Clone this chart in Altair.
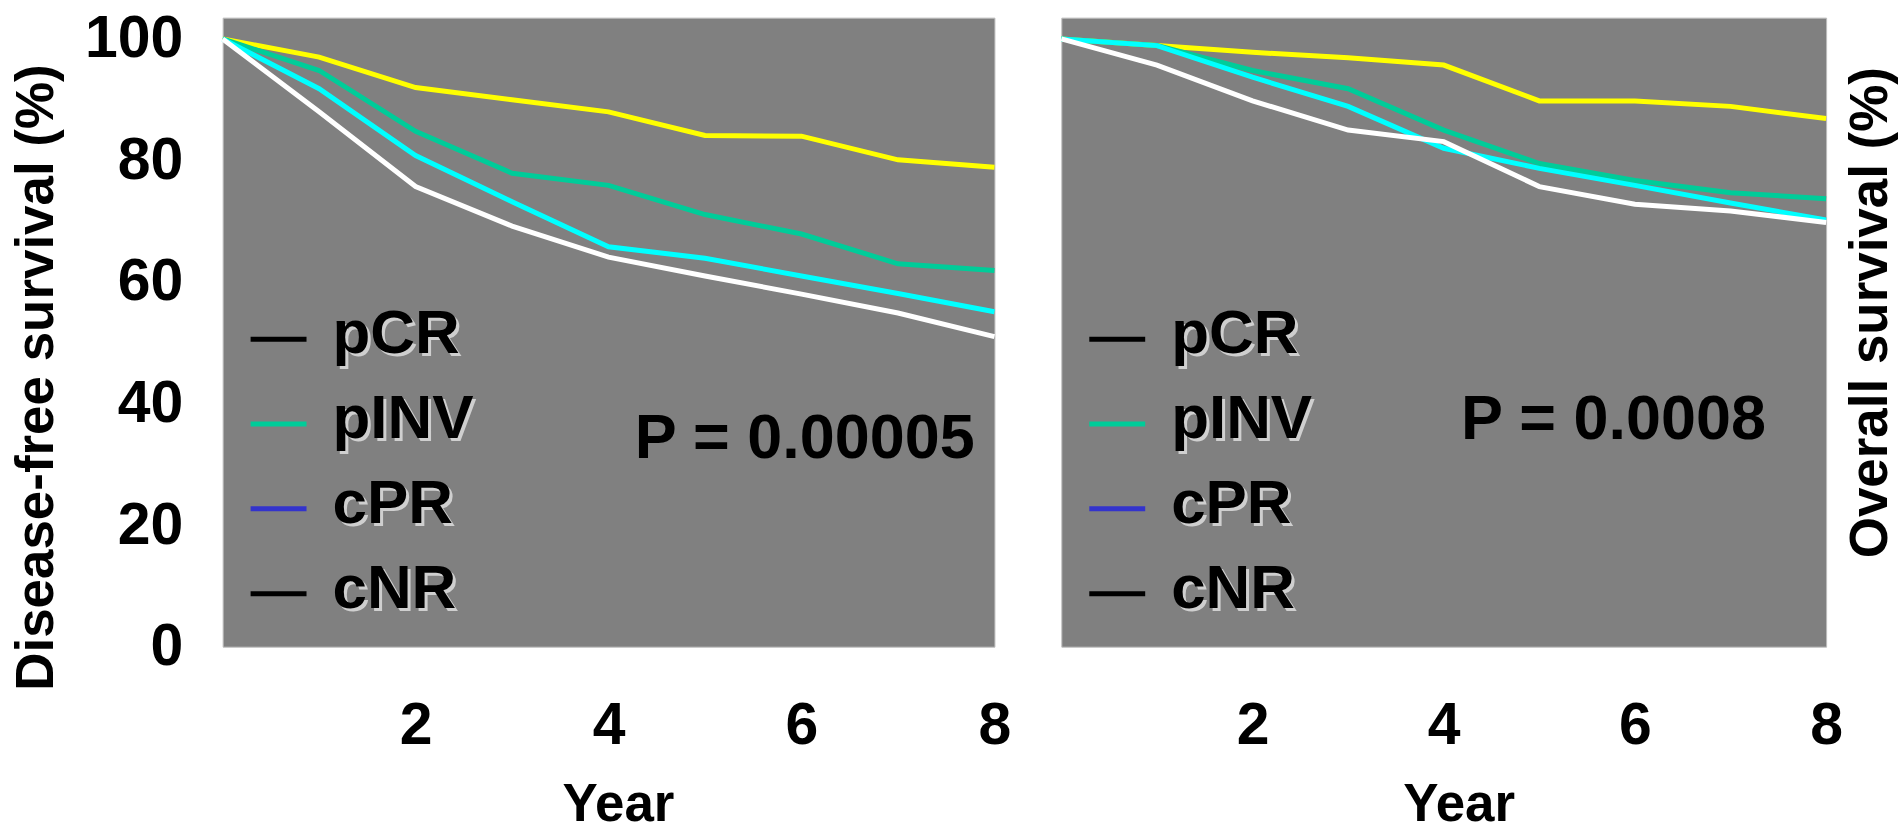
import altair as alt
import pandas as pd

# ---- data ----
years = [0, 1, 2, 3, 4, 5, 6, 7, 8]
groups = ["pCR", "pINV", "cPR", "cNR"]
line_colors = ["#ffff00", "#00cc99", "#00ffff", "#ffffff"]
legend_colors = ["#000000", "#00cc99", "#3333cc", "#000000"]

dfs_pCR = [100, 97.0, 92.0, 90.0, 88.0, 84.1, 84.0, 80.1, 78.9]
dfs_pINV = [100, 94.8, 84.8, 77.9, 75.9, 71.1, 67.9, 63.0, 61.9]
dfs_cPR = [100, 91.8, 80.8, 73.2, 65.8, 63.9, 61.0, 58.1, 55.1]
dfs_cNR = [100, 88.0, 75.7, 69.2, 64.1, 61.0, 58.0, 54.9, 51.0]

os_pCR = [100, 98.9, 97.8, 96.9, 95.7, 89.8, 89.8, 88.9, 86.9]
os_pINV = [100, 98.9, 94.8, 91.8, 85.0, 79.5, 76.7, 74.7, 73.7]
os_cPR = [100, 98.9, 93.7, 88.9, 82.0, 78.7, 75.9, 73.0, 70.2]
os_cNR = [100, 95.7, 89.8, 85.0, 83.1, 75.7, 72.8, 71.7, 69.8]

y_ticks = [0, 20, 40, 60, 80, 100]
x_ticks = [2, 4, 6, 8]
p_left = "P = 0.00005"
p_right = "P = 0.0008"

FONT = "Liberation Sans"


def long_df(series):
    rows = []
    for g, vals in zip(groups, series):
        for yr, v in zip(years, vals):
            rows.append({"year": yr, "survival": v, "group": g})
    return pd.DataFrame(rows)


legend_df = pd.DataFrame({"label": groups, "lcolor": legend_colors})


def panel(series, p_text, side, width, height, p_pos):
    df = long_df(series)
    if side == "left":
        yaxis = alt.Axis(
            values=y_ticks, orient="left", title="Disease-free survival (%)",
            labelFontSize=59, labelPadding=40, ticks=False, tickSize=0,
            domain=False, grid=False, labelFont=FONT, labelFontWeight="bold",
            labelColor="black", titleFont=FONT, titleFontSize=53,
            titleFontWeight="bold", titleColor="black", titleAngle=270,
            titleX=-186, titleY=360, titleAlign="center", titleBaseline="middle",
        )
        tx, ty = 396, 158
    else:
        yaxis = alt.Axis(
            values=y_ticks, orient="right", title="Overall survival (%)",
            labels=False, ticks=False, tickSize=0, domain=False, grid=False,
            titleFont=FONT, titleFontSize=53, titleFontWeight="bold",
            titleColor="black", titleAngle=270, titleX=44, titleY=295,
            titleAlign="center", titleBaseline="middle",
        )
        tx, ty = 398, 158
    xaxis = alt.Axis(
        values=x_ticks, title="Year", labelFontSize=59, labelPadding=50,
        ticks=False, tickSize=0, domain=False, grid=False, labelFont=FONT,
        labelFontWeight="bold", labelColor="black", titleFont=FONT,
        titleFontSize=53, titleFontWeight="bold", titleColor="black",
        titleX=tx, titleY=ty, titleAlign="center", titleBaseline="middle",
        labelFlush=False,
    )

    lines = alt.Chart(df).mark_line(strokeWidth=5).encode(
        x=alt.X("year:Q", scale=alt.Scale(domain=[0, 8], nice=False, zero=False), axis=xaxis),
        y=alt.Y("survival:Q", scale=alt.Scale(domain=[0, 103.5], nice=False), axis=yaxis),
        color=alt.Color("group:N", scale=alt.Scale(domain=groups, range=line_colors), legend=None),
        order=alt.Order("year:Q"),
    )

    leg_y = alt.Y("label:N", scale=alt.Scale(type="point", domain=groups, range=[322, 577], padding=0), axis=None)

    leg_rules = alt.Chart(legend_df).mark_rule(strokeWidth=5).encode(
        x=alt.value(28), x2=alt.value(84), y=leg_y,
        color=alt.Color("lcolor:N", scale=None),
    )
    leg_shadow = alt.Chart(legend_df).mark_text(
        font=FONT, fontSize=62, fontWeight="bold", color="#cfcfcf",
        align="left", baseline="middle", dx=3, dy=-2,
    ).encode(x=alt.value(110), y=leg_y, text="label:N")
    leg_text = alt.Chart(legend_df).mark_text(
        font=FONT, fontSize=62, fontWeight="bold", color="#000000",
        align="left", baseline="middle", dx=0, dy=-5,
    ).encode(x=alt.value(110), y=leg_y, text="label:N")

    ptxt = alt.Chart(pd.DataFrame({"p": [p_text]})).mark_text(
        font=FONT, fontSize=63, fontWeight="bold", color="#000000",
        align="center", baseline="middle",
    ).encode(x=alt.value(p_pos[0]), y=alt.value(p_pos[1]), text="p:N")

    return alt.layer(lines, leg_rules, leg_shadow, leg_text, ptxt).resolve_scale(
        y="independent", color="independent"
    ).properties(width=width, height=height)


left = panel([dfs_pCR, dfs_pINV, dfs_cPR, dfs_cNR], p_left, "left", 773, 630, (583, 422))
right = panel([os_pCR, os_pINV, os_cPR, os_cNR], p_right, "right", 766, 630, (553, 403))

chart = alt.hconcat(left, right, spacing=67, bounds="flush").properties(
    padding={"left": 10, "top": 8, "right": 4, "bottom": 12},
    background="white",
).configure_view(fill="#808080", stroke="#bdbdbd", strokeWidth=1)

chart.save("out.html", embed_options={"renderer": "svg", "actions": False})
